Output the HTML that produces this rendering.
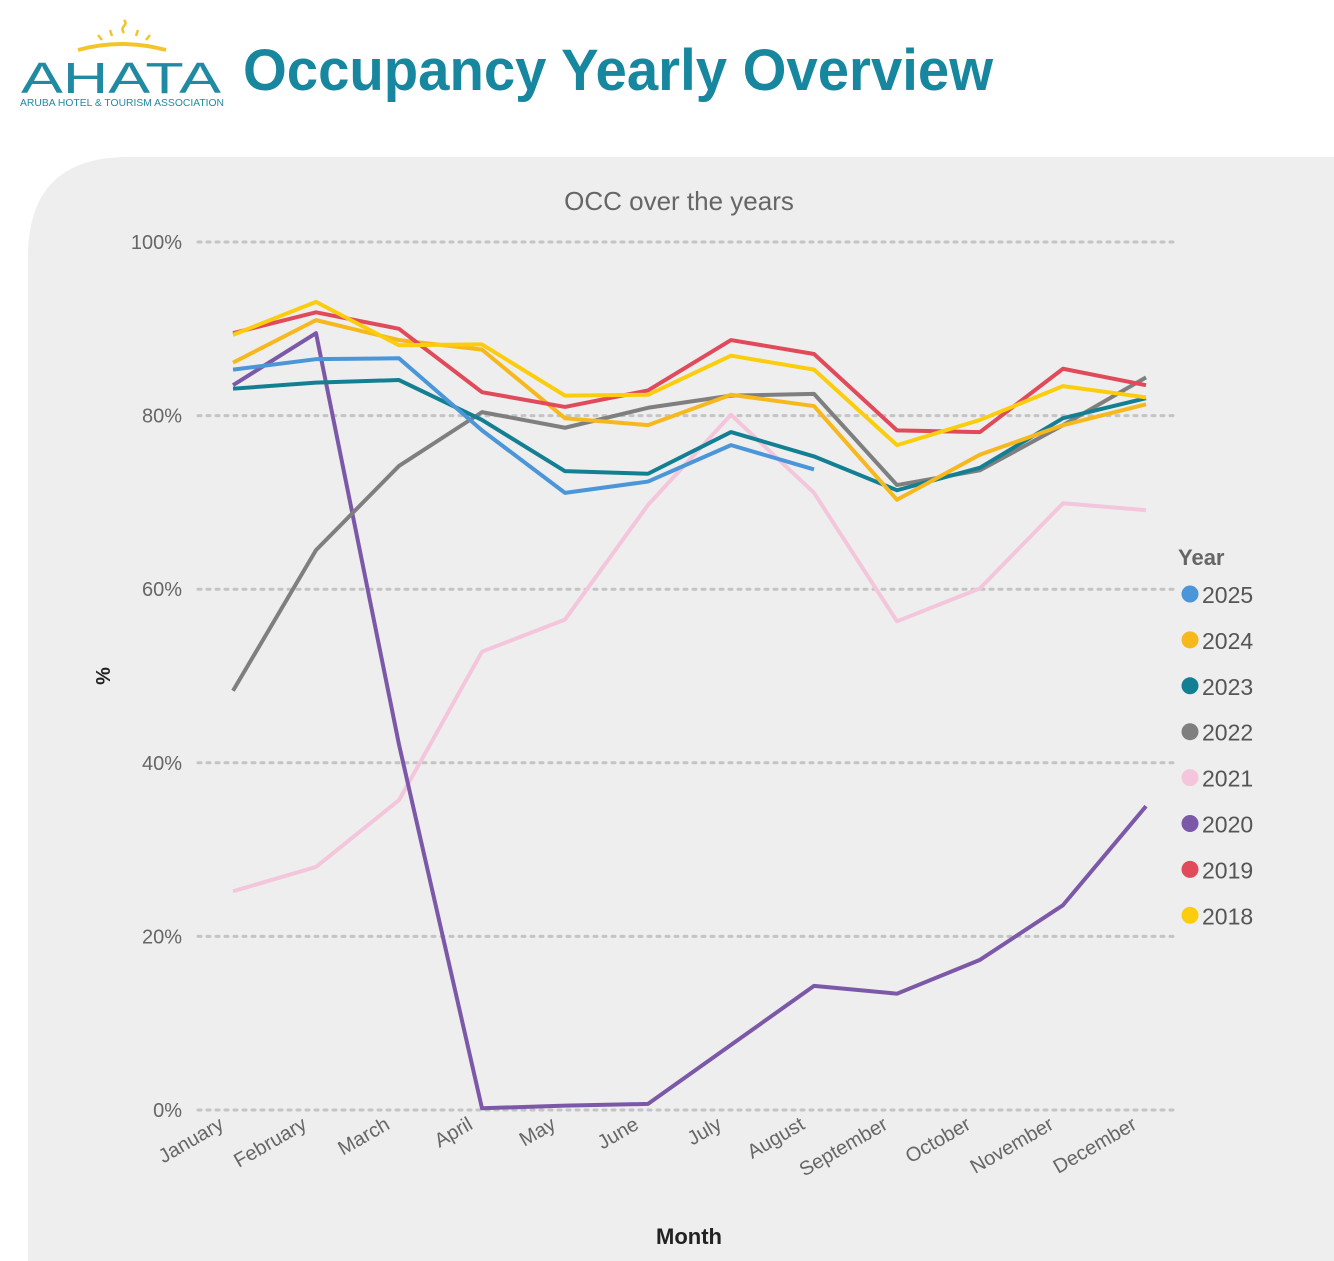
<!DOCTYPE html>
<html><head><meta charset="utf-8"><style>
html,body{margin:0;padding:0;background:#fff;}
svg{display:block;font-family:"Liberation Sans",sans-serif;}
</style></head><body>
<svg id="c" width="1334" height="1261" viewBox="0 0 1334 1261">
<g>
<path d="M78 50 Q122 38 166 50" stroke="#f3c52b" stroke-width="4" fill="none"/>
<g stroke="#f3c52b" stroke-width="2.5" fill="none">
<path d="M102 40 l-4 -5"/><path d="M112 36 l-2 -6"/><path d="M124 33 q-3 -4 0 -7 q3 -3 0 -6"/><path d="M136 36 l2 -6"/><path d="M146 40 l4 -5"/>
</g>
<text x="121" y="93" text-anchor="middle" font-size="44" fill="#1f8aa2" textLength="200" lengthAdjust="spacingAndGlyphs">AHATA</text>
<text x="122" y="106" text-anchor="middle" font-size="10" fill="#1f8aa2" textLength="204" lengthAdjust="spacingAndGlyphs">ARUBA HOTEL &amp; TOURISM ASSOCIATION</text>
</g>
<text x="243" y="90" font-size="58" font-weight="bold" fill="#17869f" textLength="750" lengthAdjust="spacingAndGlyphs">Occupancy Yearly Overview</text>
<path d="M28 1261 V257 Q28 157 128 157 H1334 V1261 Z" fill="#eeeeee"/>
<text x="679" y="210" text-anchor="middle" font-size="26" fill="#666">OCC over the years</text>
<text transform="translate(110,676) rotate(-90)" text-anchor="middle" font-size="20" font-weight="bold" fill="#222">%</text>
<text x="689" y="1244" text-anchor="middle" font-size="22" font-weight="bold" fill="#222">Month</text>
<g id="grid"></g><g id="xl"></g><g id="lines"></g><g id="legend"></g>
</svg>
<script>
const months=["January","February","March","April","May","June","July","August","September","October","November","December"];
const yTicks=[0,20,40,60,80,100];
const years=["2025","2024","2023","2022","2021","2020","2019","2018"];
const colors=["#4a96d8","#f6b81c","#137f93","#7f7f7f","#f4c6dc","#7b58a8","#e14a5a","#fbcd0d"];
const s2025=[85.3,86.5,86.6,78.3,71.1,72.4,76.6,73.8];
const s2024=[86.1,91.0,88.7,87.6,79.7,78.9,82.4,81.1,70.3,75.5,78.9,81.3];
const s2023=[83.1,83.8,84.1,79.5,73.6,73.3,78.1,75.3,71.4,74.0,79.7,82.0];
const s2022=[48.3,64.5,74.2,80.4,78.6,80.9,82.3,82.5,72.0,73.7,78.9,84.4];
const s2021=[25.2,28.0,35.7,52.8,56.5,69.7,80.1,71.1,56.3,60.1,69.9,69.1];
const s2020=[83.5,89.5,42.1,0.2,0.5,0.7,7.5,14.3,13.4,17.3,23.6,35.0];
const s2019=[89.5,91.9,90.0,82.7,81.0,82.9,88.7,87.1,78.3,78.1,85.4,83.5];
const s2018=[89.3,93.1,88.1,88.2,82.3,82.4,86.9,85.3,76.6,79.5,83.4,82.1];
const series=[s2025,s2024,s2023,s2022,s2021,s2020,s2019,s2018];
const NS="http://www.w3.org/2000/svg";
const x=i=>233+i*(1146-233)/11;
const y=v=>1110-v*8.68;
function mk(t,a,p){const e=document.createElementNS(NS,t);for(const k in a)e.setAttribute(k,a[k]);p.appendChild(e);return e;}
const grid=document.getElementById('grid');
yTicks.forEach(t=>{
 const l=mk('line',{x1:198,x2:1178,y1:y(t),y2:y(t),stroke:'#c4c4c4','stroke-width':3,'stroke-dasharray':'3 6','stroke-linecap':'round'},grid);
 
 
 const tx=mk('text',{x:182,y:y(t)+7,'text-anchor':'end','font-size':20,fill:'#666'},grid);
 tx.textContent=t+'%';
 
 
});
const xl=document.getElementById('xl');
months.forEach((m,i)=>{
 const tx=mk('text',{transform:`translate(${x(i)-8},${1128}) rotate(-30)`,'text-anchor':'end','font-size':20,fill:'#666'},xl);
 tx.textContent=m;
 
 
});
const lines=document.getElementById('lines');
const order=[4,5,3,2,0,1,6,7];
order.forEach(k=>{
 const d=series[k].map((v,i)=>(i?'L':'M')+x(i)+' '+y(v)).join(' ');
 const p=mk('path',{d:d,fill:'none',stroke:colors[k],'stroke-width':4,'stroke-linejoin':'round'},lines);
 
 
});
const lg=document.getElementById('legend');
const yt=mk('text',{x:1178,y:565,'font-size':22,'font-weight':'bold',fill:'#666'},lg);
yt.textContent='Year';


years.forEach((yr,i)=>{
 const cy=594+i*45.9;
 const g=mk('g',{},lg);
 
 
 mk('circle',{cx:1190,cy:cy,r:8.5,fill:colors[i]},g);
 const t=mk('text',{x:1202,y:cy+9,'font-size':23,fill:'#555'},g);
 t.textContent=yr;
});
</script>
</body></html>
